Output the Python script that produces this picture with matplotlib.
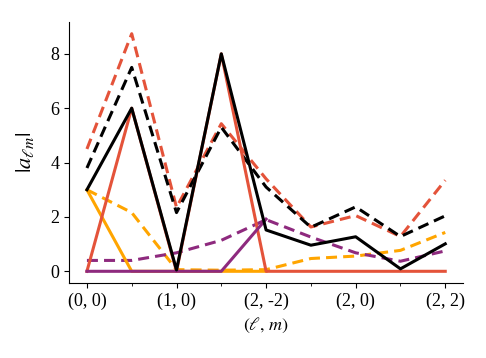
import numpy as np
import matplotlib
matplotlib.use("Agg")
import matplotlib.pyplot as plt
from matplotlib.ticker import MultipleLocator

plt.rcParams['font.family'] = ['Liberation Serif', 'DejaVu Serif']
plt.rcParams['mathtext.fontset'] = 'stix'
plt.rcParams['font.size'] = 13

# coefficient index (l, m) along the x axis
tickLabels = ['(0, 0)', '(1, 0)', '(2, -2)', '(2, 0)', '(2, 2)']
idx = np.arange(9)

# solid lines
blackSolid = [3.0, 6.0, 0.05, 8.0, 1.52, 0.96, 1.27, 0.09, 1.01]
redSolid = [0, 6.0, 0, 8.0, 0, 0, 0, 0, 0]
orangeSolid = [3.0, 0, 0, 0, 0, np.nan, np.nan, np.nan, np.nan]
purpleSolid = [0, 0, 0, 0, 1.92, np.nan, np.nan, np.nan, np.nan]

# dashed lines
blackDashed = [3.8, 7.5, 2.16, 5.3, 3.1, 1.62, 2.37, 1.28, 2.04]
redDashed = [4.5, 8.74, 2.35, 5.43, 3.4, 1.63, 2.05, 1.28, 3.35]
orangeDashed = [3.0, 2.16, 0.06, 0.04, 0.06, 0.47, 0.56, 0.77, 1.43]
purpleDashed = [0.4, 0.4, 0.68, 1.14, 1.9, 1.26, 0.68, 0.37, 0.75]

black = 'black'
red = '#e4533a'
orange = '#ffa500'
purple = '#8e2a7e'

fig, ax = plt.subplots(figsize=(4.86, 3.58), dpi=100)
fig.subplots_adjust(left=0.142, right=0.953, bottom=0.209, top=0.939)

lw = 2.2
dash = (3.6, 2.0)
ax.plot(idx, redDashed, color=red, ls='--', dashes=dash, lw=lw)
ax.plot(idx, blackDashed, color=black, ls='--', dashes=dash, lw=lw)
ax.plot(idx, orangeDashed, color=orange, ls='--', dashes=dash, lw=lw)
ax.plot(idx, purpleDashed, color=purple, ls='--', dashes=dash, lw=lw)
ax.plot(idx, orangeSolid, color=orange, lw=lw)
ax.plot(idx, redSolid, color=red, lw=lw)
ax.plot(idx, purpleSolid, color=purple, lw=lw)
ax.plot(idx, blackSolid, color=black, lw=lw)

ax.set_xticks(idx[::2])
ax.set_xticklabels(tickLabels)
ax.xaxis.set_minor_locator(MultipleLocator(1))
ax.set_yticks([0, 2, 4, 6, 8])
ax.set_xlabel(r'$(\ell,\, m)$')
ax.set_ylabel(r'$|a_{\ell m}|$', fontsize=16, labelpad=10)

ax.spines['top'].set_visible(False)
ax.spines['right'].set_visible(False)

fig.savefig('out.png', dpi=100)
